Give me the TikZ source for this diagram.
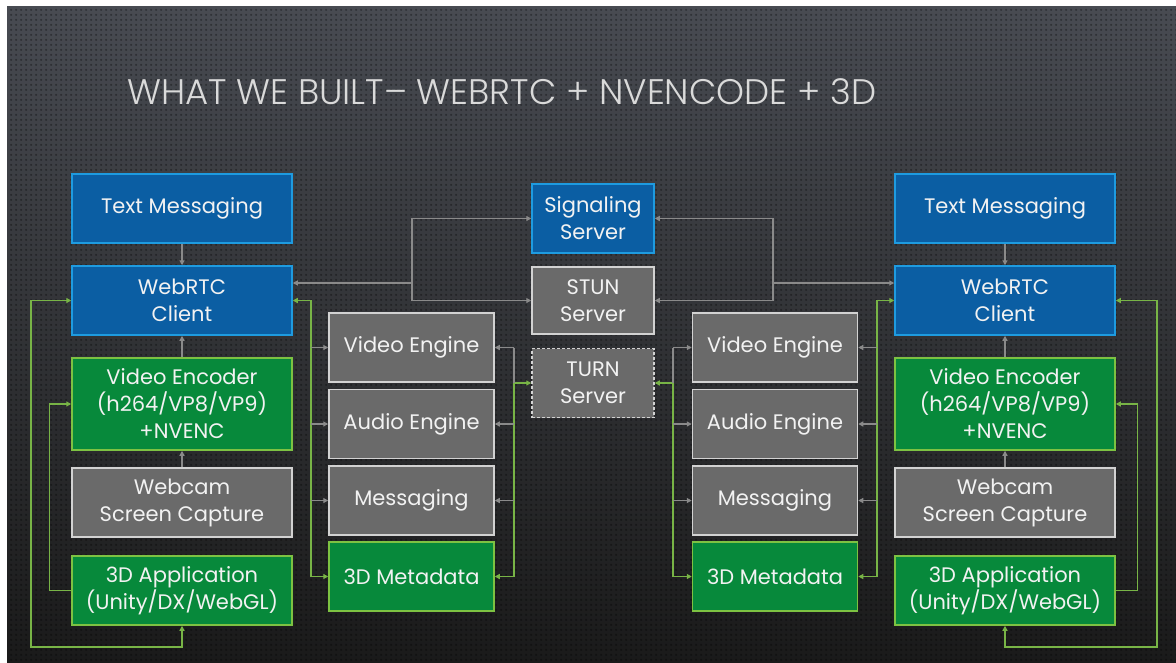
\documentclass[tikz,border=0pt]{standalone}
\usepackage{fontspec}
\setmainfont{Poppins}
\newfontfamily\titlefont{Poppins Light}
\usetikzlibrary{arrows.meta,patterns.meta}
\definecolor{bgtop}{HTML}{484B52}
\definecolor{bgbot}{HTML}{1A1A1A}
\definecolor{bfill}{HTML}{0B5EA3}
\definecolor{bline}{HTML}{1E9BE0}
\definecolor{gfill}{HTML}{07893B}
\definecolor{gline}{HTML}{7DC242}
\definecolor{yfill}{HTML}{6A6A6A}
\definecolor{yline}{HTML}{D2D2D2}
\definecolor{txt}{HTML}{F2F2F2}
\definecolor{ttl}{HTML}{DADADA}
\definecolor{conn}{HTML}{8A8A8A}
\definecolor{gconn}{HTML}{78B446}
\tikzdeclarepattern{name=carbon, type=uncolored,
  bounding box={(0pt,0pt) and (4.6pt,4.6pt)},
  tile size={(4.6pt,4.6pt)},
  code={\fill (2.3pt,2.3pt) circle (1.15pt);}}
\begin{document}
\begin{tikzpicture}[x=1pt,y=-1pt,
  >={Triangle[length=5pt,width=5pt]},
  box/.style={draw, line width=1.5pt, inner sep=0pt, align=center, text=txt,
    font=\fontsize{21}{27}\selectfont},
  bluebox/.style={box, fill=bfill, draw=bline},
  greenbox/.style={box, fill=gfill, draw=gline},
  graybox/.style={box, fill=yfill, draw=yline},
  sidew/.style={minimum width=220pt},
  midw/.style={minimum width=165pt},
  cenw/.style={minimum width=122pt},
  h69/.style={minimum height=69pt},
  h92/.style={minimum height=92pt},
  gcon/.style={draw=conn, line width=1.2pt},
  grcon/.style={draw=gconn, line width=1.3pt}
]
\useasboundingbox (0,0) rectangle (1176,662);
\fill[white] (0,0) rectangle (1176,662);
\fill[top color=bgtop, bottom color=bgbot] (7,6) rectangle (1176,662);
\fill[pattern=carbon, pattern color=black, opacity=0.35] (7,6) rectangle (1176,662);

\node[anchor=base west, text=ttl, inner sep=0pt,
  font=\titlefont\fontsize{35.5}{40}\selectfont] (title) at (127,104)
  {WHAT WE BUILT– WEBRTC + NVENCODE + 3D};

% left column
\node[bluebox, sidew, h69] (tm1) at (182,208.5) {Text Messaging};
\node[bluebox, sidew, h69] (wc1) at (182,300.5) {WebRTC\\Client};
\node[greenbox, sidew, h92] (ve1) at (182,404) {Video Encoder\\(h264/VP8/VP9)\\+NVENC};
\node[graybox, sidew, h69] (cam1) at (182,502.5) {Webcam\\Screen Capture};
\node[greenbox, sidew, h69] (app1) at (182,590.5) {3D Application\\(Unity/DX/WebGL)};

% right column
\node[bluebox, sidew, h69] (tm2) at (1005,208.5) {Text Messaging};
\node[bluebox, sidew, h69] (wc2) at (1005,300.5) {WebRTC\\Client};
\node[greenbox, sidew, h92] (ve2) at (1005,404) {Video Encoder\\(h264/VP8/VP9)\\+NVENC};
\node[graybox, sidew, h69] (cam2) at (1005,502.5) {Webcam\\Screen Capture};
\node[greenbox, sidew, h69] (app2) at (1005,590.5) {3D Application\\(Unity/DX/WebGL)};

% middle-left engines
\node[graybox, midw, h69] (veng1) at (411.5,347.5) {Video Engine};
\node[graybox, midw, h69] (aeng1) at (411.5,424) {Audio Engine};
\node[graybox, midw, h69] (msg1) at (411.5,500.5) {Messaging};
\node[greenbox, midw, h69] (meta1) at (411.5,576.5) {3D Metadata};

% middle-right engines
\node[graybox, midw, h69] (veng2) at (775,347.5) {Video Engine};
\node[graybox, midw, h69] (aeng2) at (775,424) {Audio Engine};
\node[graybox, midw, h69] (msg2) at (775,500.5) {Messaging};
\node[greenbox, midw, h69] (meta2) at (775,576.5) {3D Metadata};

% servers
\node[bluebox, cenw, h69] (sig) at (593,218.5) {Signaling\\Server};
\node[graybox, cenw, minimum height=67pt] (stun) at (593,300.5) {STUN\\Server};
\node[graybox, cenw, h69, dashed, dash pattern=on 3pt off 2pt] (turn) at (593,383) {TURN\\Server};

% vertical gray arrows
\foreach \s in {1,2}{
  \draw[gcon,->] (tm\s) -- (wc\s);
  \draw[gcon,->] (ve\s) -- (wc\s);
  \draw[gcon,->] (cam\s) -- (ve\s);
}

% outer green loops
\coordinate (L1) at (31,647);
\coordinate (R1) at (1157,647);
\draw[grcon,<->] (wc1.west) -| (L1) -| (app1.south);
\draw[grcon,<->] (wc2.east) -| (R1) -| (app2.south);
% inner green loops
\draw[grcon,->] (app1.west) -- ++(-22,0) |- (ve1.west);
\draw[grcon,->] (app2.east) -- ++(22,0) |- (ve2.east);

% signaling / stun branches
\coordinate (J1) at (412,283);
\coordinate (J2) at (773,283);
\draw[gcon,->] (J1) |- (sig.west);
\draw[gcon,->] (J1) |- (stun.west);
\draw[gcon,->] (J1) -- (J1 -| wc1.east);
\draw[gcon,->] (J2) |- (sig.east);
\draw[gcon,->] (J2) |- (stun.east);
\draw[gcon,->] (J2) -- (J2 -| wc2.west);

% buses
\coordinate (B1) at (311,0);
\coordinate (B2) at (514,0);
\coordinate (B3) at (673,0);
\coordinate (B4) at (877,0);
\draw[grcon,<->] (wc1.east) -| (B1 |- meta1.west) -- (meta1.west);
\draw[grcon,<->] (turn.west) -| (B2 |- meta1.east) -- (meta1.east);
\draw[grcon,<->] (turn.east) -| (B3 |- meta2.west) -- (meta2.west);
\draw[grcon,<->] (wc2.west) -| (B4 |- meta2.east) -- (meta2.east);
\draw[gcon] (B2 |- veng1.east) -- (B2 |- turn.west);
\draw[gcon] (B3 |- veng2.west) -- (B3 |- turn.east);
\foreach \n in {veng,aeng,msg}{
  \draw[gcon,->] (B1 |- \n1.west) -- (\n1.west);
  \draw[gcon,->] (B2 |- \n1.east) -- (\n1.east);
  \draw[gcon,->] (B3 |- \n2.west) -- (\n2.west);
  \draw[gcon,->] (B4 |- \n2.east) -- (\n2.east);
}
\end{tikzpicture}
\end{document}
